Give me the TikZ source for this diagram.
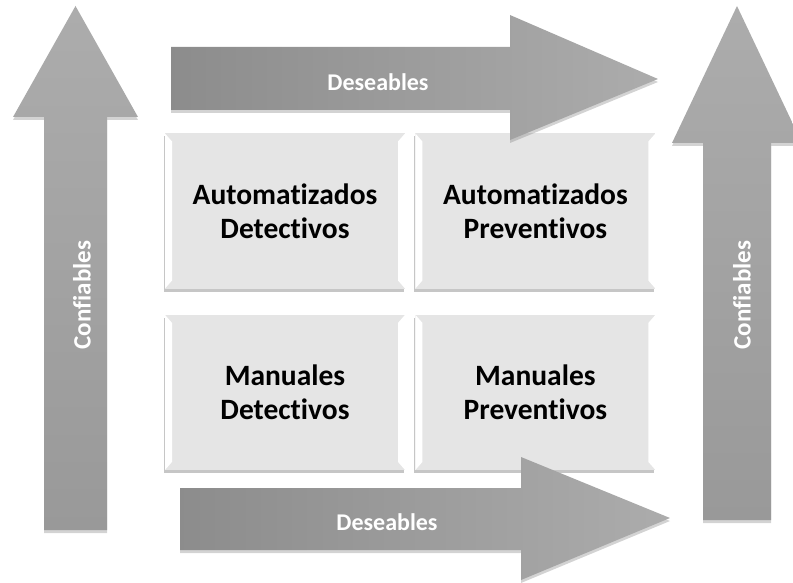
\documentclass[tikz,border=0pt]{standalone}
\usepackage{fontspec}
\setmainfont{Carlito}[Ligatures=NoCommon]
\tikzset{>=latex}
\usetikzlibrary{positioning,shadows}

\tikzset{
  cell/.style={fill=gray!20, minimum width=240pt, minimum height=155pt, align=center,
    font=\bfseries\fontsize{29.5}{34}\selectfont,
    drop shadow={shadow xshift=-1.5pt, shadow yshift=-3pt, opacity=0.45},
    path picture={
      \fill[white] (path picture bounding box.north west) -- ++(7pt,-8pt) -- ([shift={(7pt,8pt)}]path picture bounding box.south west) -- (path picture bounding box.south west) -- cycle;
      \fill[white] (path picture bounding box.north east) -- ++(-7pt,-8pt) -- ([shift={(-7pt,8pt)}]path picture bounding box.south east) -- (path picture bounding box.south east) -- cycle;
    }},
  bigarrow/.style={drop shadow={shadow xshift=0pt, shadow yshift=-3pt, opacity=0.35}},
  label/.style={text=white, font=\bfseries\fontsize{24}{28}\selectfont}
}

\begin{document}
\begin{tikzpicture}[x=1pt,y=-1pt]
  \useasboundingbox (0,0) rectangle (793,583);
  % cuadrantes
  \node[cell] (n1) at (285,211) {Automatizados\\Detectivos};
  \node[cell, right=10pt of n1] (n2) {Automatizados\\Preventivos};
  \node[cell, below=26pt of n1] (n3) {Manuales\\Detectivos};
  \node[cell, below=26pt of n2] (n4) {Manuales\\Preventivos};
  % flechas verticales
  \path[bigarrow, top color=gray!65, bottom color=gray!80] (44,530) -- (44,117) -- (13,117) -- (75.5,6) -- (138,117) -- (107,117) -- (107,530) -- cycle;
  \path[bigarrow, top color=gray!65, bottom color=gray!80] (703,520) -- (703,143) -- (672,143) -- (737,6) -- (802,143) -- (771,143) -- (771,520) -- cycle;
  % flechas horizontales
  \path[bigarrow, left color=gray!90, right color=gray!65] (171,47) -- (510,47) -- (510,15) -- (658,79) -- (510,140) -- (510,110) -- (171,110) -- cycle;
  \path[bigarrow, left color=gray!90, right color=gray!65] (180,488) -- (521,488) -- (521,457) -- (670,518) -- (521,580) -- (521,550) -- (180,550) -- cycle;
  % textos
  \node[label] (d1) at (378,82) {Deseables};
  \node[label] (d2) at (387,522) {Deseables};
  \node[label, rotate=90, font=\bfseries\fontsize{25}{28}\selectfont] (c1) at (82,295) {Confiables};
  \node[label, rotate=90, font=\bfseries\fontsize{25}{28}\selectfont] (c2) at (742,295) {Confiables};
\end{tikzpicture}
\end{document}
